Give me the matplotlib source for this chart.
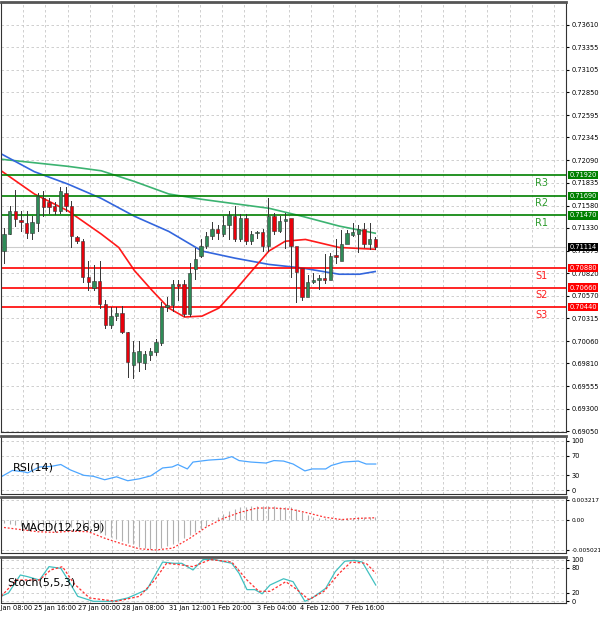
import numpy as np
import matplotlib.pyplot as plt
from matplotlib.patches import Rectangle

# candle OHLC
opens = [0.7107, 0.7126, 0.7152, 0.7142, 0.7138, 0.7127, 0.7138, 0.7167, 0.7162, 0.7157,
         0.7152, 0.7172, 0.7157, 0.7123, 0.7118, 0.7078, 0.7066, 0.7073, 0.7048, 0.7024,
         0.7034, 0.7037, 0.7016, 0.6979, 0.6983, 0.6981, 0.6990, 0.6994, 0.7004, 0.7044,
         0.7046, 0.7070, 0.7070, 0.7036, 0.7087, 0.7102, 0.7113, 0.7124, 0.7132, 0.7126,
         0.7136, 0.7146, 0.7121, 0.7144, 0.7118, 0.7127, 0.7128, 0.7113, 0.7146, 0.7130,
         0.7141, 0.7144, 0.7113, 0.7088, 0.7055, 0.7072, 0.7074, 0.7077, 0.7074, 0.7103,
         0.7096, 0.7115, 0.7125, 0.7126, 0.7132, 0.7115, 0.7121]
closes = [0.7126, 0.7152, 0.7143, 0.7140, 0.7127, 0.7140, 0.7169, 0.7156, 0.7156, 0.7152,
          0.7174, 0.7157, 0.7124, 0.7118, 0.7078, 0.7072, 0.7073, 0.7048, 0.7024, 0.7034,
          0.7037, 0.7016, 0.6982, 0.6994, 0.6995, 0.6992, 0.6995, 0.7005, 0.7044, 0.7046,
          0.7070, 0.7068, 0.7036, 0.7082, 0.7098, 0.7113, 0.7124, 0.7132, 0.7127, 0.7136,
          0.7147, 0.7121, 0.7144, 0.7118, 0.7126, 0.7128, 0.7113, 0.7146, 0.7130, 0.7141,
          0.7143, 0.7113, 0.7083, 0.7055, 0.7072, 0.7075, 0.7077, 0.7074, 0.7102, 0.7100,
          0.7115, 0.7127, 0.7128, 0.7132, 0.7115, 0.7121, 0.7111]
highs = [0.7133, 0.7157, 0.7176, 0.7152, 0.7152, 0.7146, 0.7172, 0.7174, 0.7166, 0.7162,
         0.7179, 0.7179, 0.7163, 0.7124, 0.7121, 0.7096, 0.7091, 0.7096, 0.7052, 0.7044,
         0.7044, 0.7045, 0.7016, 0.7006, 0.7006, 0.6995, 0.6998, 0.7008, 0.7050, 0.7056,
         0.7074, 0.7074, 0.7074, 0.7094, 0.7110, 0.7121, 0.7128, 0.7140, 0.7136, 0.7146,
         0.7152, 0.7157, 0.7148, 0.7148, 0.7130, 0.7130, 0.7132, 0.7166, 0.7150, 0.7146,
         0.7150, 0.7116, 0.7096, 0.7076, 0.7080, 0.7082, 0.7080, 0.7104, 0.7105, 0.7120,
         0.7131, 0.7131, 0.7138, 0.7136, 0.7138, 0.7138, 0.7123]
lows = [0.7094, 0.7126, 0.7135, 0.7130, 0.7122, 0.7121, 0.7130, 0.7146, 0.7150, 0.7148,
        0.7150, 0.7152, 0.7112, 0.7116, 0.7072, 0.7063, 0.7063, 0.7043, 0.7021, 0.7021,
        0.7030, 0.7015, 0.6966, 0.6965, 0.6973, 0.6975, 0.6985, 0.6990, 0.7002, 0.7040,
        0.7040, 0.7052, 0.7034, 0.7034, 0.7076, 0.7100, 0.7110, 0.7120, 0.7120, 0.7124,
        0.7121, 0.7118, 0.7118, 0.7115, 0.7115, 0.7122, 0.7107, 0.7107, 0.7126, 0.7128,
        0.7110, 0.7078, 0.7050, 0.7052, 0.7068, 0.7071, 0.7064, 0.7071, 0.7080, 0.7094,
        0.7110, 0.7120, 0.7124, 0.7106, 0.7112, 0.7109, 0.7109]

# moving averages (bar index, price)
ma_red_x = [-0.5, 5.4, 11.4, 17.3, 20.4, 23.2, 26.3, 29.3, 32.1, 35.2, 38.2, 41.1, 44.1, 47.1, 50, 53.6, 59.6, 66]
ma_red_y = [0.7197, 0.7171, 0.7152, 0.7126, 0.7111, 0.7085, 0.7063, 0.7043, 0.7033, 0.7034,
            0.7043, 0.7063, 0.7085, 0.7107, 0.7118, 0.7120, 0.7111, 0.7109]
ma_blue_x = [-0.5, 5.4, 11.4, 17.3, 23.2, 29.3, 35.2, 41.1, 47.1, 53, 59.6, 63.2, 66]
ma_blue_y = [0.7216, 0.7196, 0.7182, 0.7166, 0.7146, 0.7129, 0.7107, 0.7099, 0.7092, 0.7088,
             0.7081, 0.7081, 0.7084]
ma_green_x = [-0.5, 11.4, 17.3, 23.2, 29.3, 35.2, 41.1, 47.1, 53, 59.6, 66]
ma_green_y = [0.7210, 0.7202, 0.7197, 0.7185, 0.7171, 0.7165, 0.7160, 0.7155, 0.7146, 0.7135, 0.7127]

res_names = ["R3", "R2", "R1"]
res_levels = [0.7192, 0.7169, 0.7147]
sup_names = ["S1", "S2", "S3"]
sup_levels = [0.7088, 0.7066, 0.7044]
last_price = 0.71114
price_ticks = [0.73610, 0.73355, 0.73105, 0.72850, 0.72595, 0.72345, 0.72090, 0.71835, 0.71580,
               0.71330, 0.71075, 0.70820, 0.70570, 0.70315, 0.70060, 0.69810, 0.69555, 0.69300, 0.69050]

rsi_x = [-0.5, 1.5, 3.6, 4.2, 6.3, 8.3, 10.1, 11.8, 14.2, 15.9, 17.9, 20, 22, 24.1, 26.1, 28.2,
         29.9, 30.9, 32.6, 33.6, 36.4, 39.1, 40.5, 41.8, 43.9, 46.6, 48, 49.7, 51.4, 53.5, 54.8,
         57.2, 58.2, 60.3, 63, 64.4, 66.1]
rsi_y = [27, 40, 37, 35, 47, 48, 52, 41, 30, 28, 21, 27, 19, 23, 29, 45, 47, 52, 43, 57, 61, 63,
         68, 60, 57, 55, 60, 59, 53, 39, 43, 43, 50, 57, 59, 53, 53]

macd_hist = [-0.0005, -0.0008, -0.0009, -0.0010, -0.0011, -0.0012, -0.0012, -0.0012, -0.0012,
             -0.0012, -0.0012, -0.0013, -0.0013, -0.0014, -0.0015, -0.0016, -0.0019, -0.0022,
             -0.0025, -0.0028, -0.0032, -0.0035, -0.0038, -0.0041, -0.0045, -0.0047, -0.0048,
             -0.0048, -0.0046, -0.0043, -0.0040, -0.0035, -0.0030, -0.0025, -0.0020, -0.0015,
             -0.0010, -0.0003, 0.0004, 0.0010, 0.0014, 0.0018, 0.0020, 0.0021, 0.0022, 0.0022,
             0.0022, 0.0022, 0.0022, 0.0021, 0.0020, 0.0020, 0.0017, 0.0013, 0.0008, 0.0005,
             0.0003, 0.0002, 0.0001, 0.0001, 0.0001, 0.0002, 0.0003, 0.0004, 0.0005, 0.0005, 0.0005]
macd_sig_x = [0, 6, 9, 12, 15, 18, 21, 24, 27, 30, 33, 36, 39, 42, 45, 48, 51, 54, 57, 60, 63, 66]
macd_sig_y = [-0.0013, -0.0020, -0.0021, -0.0019, -0.0020, -0.0031, -0.0040, -0.0048, -0.0050,
              -0.0047, -0.0031, -0.0012, 0.0002, 0.0012, 0.0019, 0.0019, 0.0017, 0.0011, 0.0004,
              0.0, 0.0002, 0.0003]

stoch_x = [-0.5, 0.8, 2.9, 4.2, 6.3, 8.0, 10.1, 11.4, 13.1, 15.9, 19.3, 22, 25.4, 28.2, 30.2,
           31.6, 33.6, 35.4, 37.4, 40.5, 41.8, 43.2, 44.6, 45.9, 47.3, 49.7, 51.4, 53.5, 54.8,
           57.2, 58.9, 60.6, 62.3, 63.7, 66.1]
stoch_y = [12, 20, 63, 59, 51, 83, 79, 51, 12, 0, 0, 8, 28, 94, 91, 91, 75, 100, 100, 91, 67,
           28, 28, 18, 39, 54, 47, 0, 8, 31, 71, 96, 98, 94, 39]
stoch_sig_x = [-0.5, 2.2, 4.2, 6.3, 8.3, 10.4, 12.4, 15.2, 20, 24.1, 26.8, 28.9, 31.6, 33.6,
               36.7, 40.5, 43.2, 45.3, 47.3, 50.1, 52.1, 54.2, 56.9, 59.6, 61.7, 64.4, 66.1]
stoch_sig_y = [12, 51, 51, 51, 75, 83, 43, 8, 0, 12, 51, 91, 87, 83, 100, 94, 51, 24, 24, 47,
               28, 4, 24, 67, 94, 91, 67]

xtick_pos = [1.25, 9.1, 17, 24.8, 33, 40.5, 48.4, 56.2, 64.1]
xtick_lab = ["24 Jan 08:00", "25 Jan 16:00", "27 Jan 00:00", "28 Jan 08:00", "31 Jan 12:00",
             "1 Feb 20:00", "3 Feb 04:00", "4 Feb 12:00", "7 Feb 16:00"]

XL = (-0.5, 100)
W = 0.942
FS = 4.8
fig = plt.figure(figsize=(6, 6.21), dpi=100)
ax = fig.add_axes([0.002, 0.3043, W, 0.692])
ax_rsi = fig.add_axes([0.002, 0.2045, W, 0.0934])
ax_macd = fig.add_axes([0.002, 0.1095, W, 0.090])
ax_st = fig.add_axes([0.002, 0.029, W, 0.074])

grid_kw = dict(color="#c8c8c8", linestyle=(0, (3, 3)), linewidth=0.6)
for a in (ax, ax_rsi, ax_macd, ax_st):
    a.set_xlim(*XL)
    a.yaxis.tick_right()
    a.tick_params(axis="y", labelsize=FS, length=2, pad=1.5)
    a.tick_params(axis="x", which="both", length=0)
    a.set_xticks([])
    a.set_xticks(np.arange(-0.5, 100, 3.93), minor=True)
    a.grid(True, which="minor", axis="x", **grid_kw)
    a.grid(True, which="major", axis="y", **grid_kw)
    for s in a.spines.values():
        s.set_color("#333333")
        s.set_linewidth(0.8)
    a.spines["top"].set_linewidth(2)
    a.spines["top"].set_color("#555555")

# main price chart
ax.set_ylim(0.6904, 0.7386)
ax.set_yticks(price_ticks)
ax.set_yticklabels([f"{v:.5f}" for v in price_ticks])
for i, (o, c, h, l) in enumerate(zip(opens, closes, highs, lows)):
    col = "#2e8b57" if c >= o else "#e8000b"
    ax.plot([i, i], [l, h], color="#333333", lw=0.7, zorder=3)
    ax.add_patch(Rectangle((i - 0.3, min(o, c)), 0.6, max(abs(c - o), 0.00005),
                           facecolor=col, edgecolor="#333333", lw=0.4, zorder=4))
ax.plot(ma_green_x, ma_green_y, color="#3cb371", lw=1.2, zorder=2)
ax.plot(ma_blue_x, ma_blue_y, color="#3366dd", lw=1.2, zorder=2)
ax.plot(ma_red_x, ma_red_y, color="#ff1a1a", lw=1.2, zorder=2)
ax.axhline(last_price, color="#cccccc", lw=0.8, zorder=1)
box_kw = dict(fontsize=FS, va="center", ha="left", clip_on=False, zorder=6, color="white")
for name, lv in zip(res_names, res_levels):
    ax.axhline(lv, color="#008000", lw=1.2, zorder=2)
    ax.text(95.5, lv - 0.0003, name, color="#2e9b2e", fontsize=7, ha="center", va="top")
    ax.text(100.5, lv, f"{lv:.5f}", bbox=dict(facecolor="#008000", edgecolor="none", pad=0.8), **box_kw)
for name, lv in zip(sup_names, sup_levels):
    ax.axhline(lv, color="#ff0000", lw=1.2, zorder=2)
    ax.text(95.5, lv - 0.0003, name, color="#ff2020", fontsize=7, ha="center", va="top")
    ax.text(100.5, lv, f"{lv:.5f}", bbox=dict(facecolor="#ff0000", edgecolor="none", pad=0.8), **box_kw)
ax.text(100.5, last_price, f"{last_price:.5f}", bbox=dict(facecolor="black", edgecolor="none", pad=0.8), **box_kw)

# RSI
ax_rsi.set_ylim(-8, 110)
ax_rsi.set_yticks([0, 30, 70, 100])
ax_rsi.plot(rsi_x, rsi_y, color="#4da6ff", lw=0.9)
ax_rsi.text(1.5, 45, "RSI(14)", fontsize=8, va="center")

# MACD
ax_macd.set_ylim(-0.0055, 0.0037)
ax_macd.set_yticks([-0.005021, 0.0, 0.003217])
ax_macd.set_yticklabels(["-0.005021", "0.00", "0.003217"], fontsize=4.2)
ax_macd.vlines(np.arange(len(macd_hist)), 0, macd_hist, color="#b0b0b0", lw=0.8)
ax_macd.plot(macd_sig_x, macd_sig_y, color="#ff3030", lw=0.9, linestyle=(0, (1.5, 1.5)))
ax_macd.text(3.0, -0.0013, "MACD(12,26,9)", fontsize=8, va="center")

# Stochastic
ax_st.set_ylim(-4, 106)
ax_st.set_yticks([0, 20, 80, 100])
ax_st.plot(stoch_x, stoch_y, color="#40c0c0", lw=0.9)
ax_st.plot(stoch_sig_x, stoch_sig_y, color="#ff3030", lw=0.9, linestyle=(0, (2, 1.5)))
ax_st.text(0.5, 45, "Stoch(5,5,3)", fontsize=8, va="center")
for p, lab in zip(xtick_pos, xtick_lab):
    ax_st.text(p, -8, lab, fontsize=FS, ha="center", va="top", clip_on=False)

fig.savefig("out.png", dpi=100)
